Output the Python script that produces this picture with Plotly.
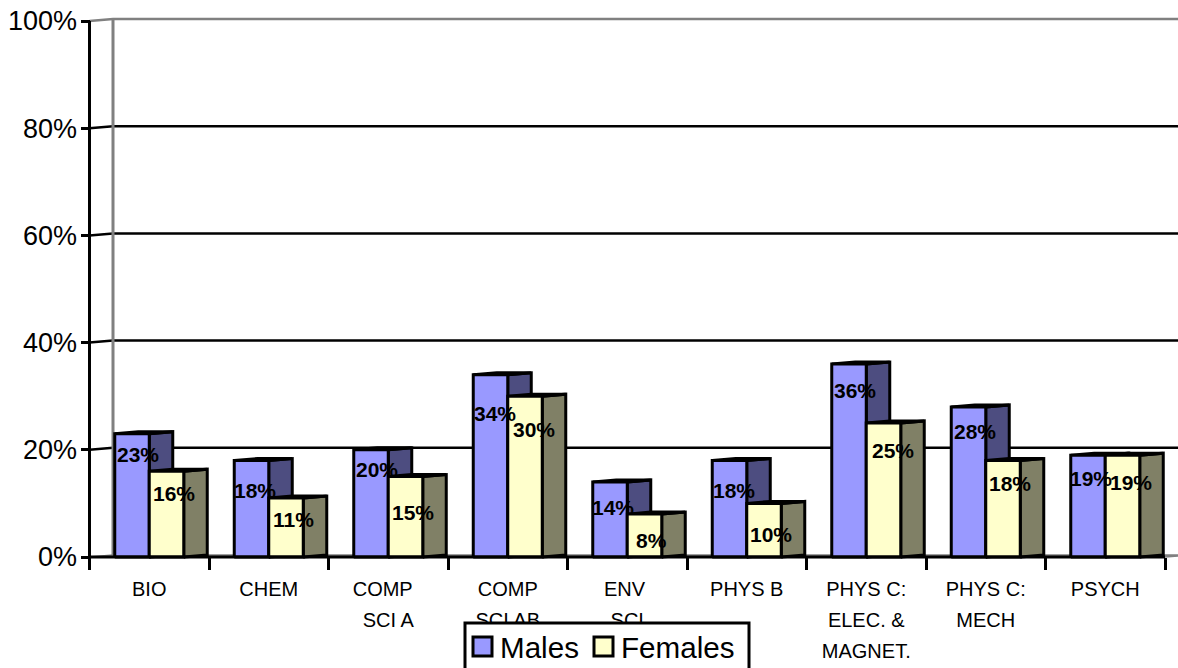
import plotly.graph_objects as go

# ---- data ----
label_rows = [
    ["BIO", "CHEM", "COMP\u00a0\u00a0", "COMP", "ENV\u00a0", "PHYS B", "PHYS C:", "PHYS C:", "PSYCH"],
    ["", "", "SCI A", "SCI AB", "SCI", "", "ELEC. &", "MECH", ""],
    ["", "", "", "", "", "", "MAGNET.", "", ""],
]
males = [23, 18, 20, 34, 14, 18, 36, 28, 19]
females = [16, 11, 15, 30, 8, 10, 25, 18, 19]
y_ticks = [0, 20, 40, 60, 80, 100]

# ---- label nudges, pixels (dx, dy below the bar top) ----
male_nudge_x = [6, 3, 6, 4, 3, 4, 6, 6, 3]
male_nudge_y = [21, 30, 20, 39, 26, 30, 26, 25, 23]
female_nudge_x = [7, 7, 7, 9, 7, 7, 9, 7, 8]
female_nudge_y = [22, 21, 36, 33, 26, 31, 27, 23, 27]

# ---- geometry and style ----
W, H = 1178, 668
L, R, TOP, BOT = 89.5, 1165, 21, 557
cat_px = (R - L) / 9
val_px = (BOT - TOP) / 100
BAR = 34.5 / cat_px
GAP = (1 - 2 * BAR) / 2
DX = 23.5 / cat_px
DY = 2 / val_px
n = len(males)
FONT = "Liberation Sans"
C_M, C_M_SIDE, C_M_TOP = "#9999FF", "#4D4D80", "#7A7ACC"
C_F, C_F_SIDE, C_F_TOP = "#FFFFCC", "#808066", "#CCCCA3"
GREY = "#808080"
X_RANGE = [-L / cat_px, (W - L) / cat_px]
Y_RANGE = [(BOT - H) / val_px, BOT / val_px]


def paper_x(px):
    return px / W


def paper_y(py):
    return (H - py) / H


def polys(rects):
    xs, ys = [], []
    for r in rects:
        xs += [p[0] for p in r] + [r[0][0], None]
        ys += [p[1] for p in r] + [r[0][1], None]
    return xs, ys


def poly_trace(rects, fill, lw=3):
    xs, ys = polys(rects)
    return go.Scatter(x=xs, y=ys, mode="lines", fill="toself", fillcolor=fill,
                      line=dict(color="black", width=lw), hoverinfo="skip", showlegend=False)


def line_trace(x, y, color, lw=2.5):
    return go.Scatter(x=x, y=y, mode="lines", line=dict(color=color, width=lw),
                      hoverinfo="skip", showlegend=False)


fig = go.Figure()

# back wall and floor
fig.add_trace(go.Scatter(x=[0, 9, 9 + DX, DX, 0], y=[0, 0, DY, DY, 0], mode="lines", fill="toself",
                         fillcolor=GREY, line=dict(color=GREY, width=1.5), hoverinfo="skip", showlegend=False))
for t in y_ticks[1:-1]:
    fig.add_trace(line_trace([0, DX, 9 + 2 * DX], [t, t + DY, t + DY], "black"))
fig.add_trace(line_trace([0, DX, 9 + 2 * DX], [100, 100 + DY, 100 + DY], GREY))
fig.add_trace(line_trace([DX, DX], [DY, 100 + DY], GREY, 3))

starts_m = [i + GAP for i in range(n)]
starts_f = [i + GAP + BAR for i in range(n)]


def faces(starts, vals):
    front = [[(s, 0), (s + BAR, 0), (s + BAR, v), (s, v)] for s, v in zip(starts, vals)]
    side = [[(s + BAR, 0), (s + BAR + DX, DY), (s + BAR + DX, v + DY), (s + BAR, v)] for s, v in zip(starts, vals)]
    top = [[(s, v), (s + BAR, v), (s + BAR + DX, v + DY), (s + DX, v + DY)] for s, v in zip(starts, vals)]
    return front, side, top


fm, sm, tm = faces(starts_m, males)
ff, sf, tf = faces(starts_f, females)
fig.add_trace(poly_trace(sm, C_M_SIDE))
fig.add_trace(poly_trace(tm, C_M_TOP))
fig.add_trace(poly_trace(fm, C_M))
fig.add_trace(poly_trace(sf, C_F_SIDE))
fig.add_trace(poly_trace(tf, C_F_TOP))
fig.add_trace(poly_trace(ff, C_F))

# axis lines (axes span the whole page so the depth offset is not clipped)
fig.add_trace(line_trace([0, 9], [0, 0], "black", 3))
fig.add_trace(line_trace([0, 0], [0, 100], "black", 3))

# dummy traces that bring the label-row axes to life
for k in range(len(label_rows)):
    fig.add_trace(go.Scatter(x=[None], y=[None], xaxis=f"x{k + 2}", yaxis="y", showlegend=False, hoverinfo="skip"))

centers = [i + 0.5 for i in range(n)]
layout_axes = {}
row_px = [575, 606, 637]
for k, row in enumerate(label_rows):
    layout_axes[f"xaxis{k + 2}"] = dict(
        overlaying="x", anchor="free", position=paper_y(row_px[k]), range=X_RANGE, side="bottom", automargin=False,
        tickmode="array", tickvals=centers, ticktext=row, ticks="", showline=False, showgrid=False,
        zeroline=False, ticklen=0, tickfont=dict(family=FONT, size=20, color="black"))

annotations = []
for s, v, nx, ny in zip(starts_m, males, male_nudge_x, male_nudge_y):
    annotations.append(dict(x=s + BAR / 2, y=v, text=f"<b>{v}%</b>", showarrow=False, xanchor="center", yanchor="middle",
                            xshift=nx, yshift=-ny, font=dict(family=FONT, size=21, color="black")))
for s, v, nx, ny in zip(starts_f, females, female_nudge_x, female_nudge_y):
    annotations.append(dict(x=s + BAR / 2, y=v, text=f"<b>{v}%</b>", showarrow=False, xanchor="center", yanchor="middle",
                            xshift=nx, yshift=-ny, font=dict(family=FONT, size=21, color="black")))

# legend
shapes = [
    dict(type="rect", xref="paper", yref="paper", x0=paper_x(465), x1=paper_x(749), y0=paper_y(700), y1=paper_y(623),
         fillcolor="white", line=dict(color="black", width=3), layer="above"),
    dict(type="rect", xref="paper", yref="paper", x0=paper_x(473), x1=paper_x(492), y0=paper_y(656), y1=paper_y(637),
         fillcolor=C_M, line=dict(color="black", width=3), layer="above"),
    dict(type="rect", xref="paper", yref="paper", x0=paper_x(594), x1=paper_x(613), y0=paper_y(656), y1=paper_y(637),
         fillcolor=C_F, line=dict(color="black", width=3), layer="above"),
]
for txt, px in (("Males", 499), ("Females", 620)):
    annotations.append(dict(xref="paper", yref="paper", x=paper_x(px), y=paper_y(647), text=txt, showarrow=False,
                            xanchor="left", yanchor="middle", xshift=-1, font=dict(family=FONT, size=29.6, color="black")))

fig.update_layout(
    width=W, height=H, autosize=False, paper_bgcolor="white", plot_bgcolor="white", showlegend=False,
    margin=dict(l=0, r=0, t=0, b=0, pad=0),
    xaxis=dict(range=X_RANGE, showgrid=False, zeroline=False, showline=False, automargin=False,
               anchor="free", position=paper_y(BOT),
               tickmode="array", tickvals=[], ticks="", showticklabels=False,
               minor=dict(tickmode="array", tickvals=list(range(n + 1)), ticks="outside", ticklen=12, tickwidth=2.5, tickcolor="black")),
    yaxis=dict(range=Y_RANGE, tickmode="array", tickvals=y_ticks, automargin=False,
               anchor="free", position=paper_x(L),
               ticktext=[f"{t}%" for t in y_ticks], showgrid=False, zeroline=False, showline=False,
               ticks="outside", ticklen=9, tickwidth=2.5, tickcolor="black", ticklabelstandoff=-2,
               tickfont=dict(family=FONT, size=27, color="black")),
    annotations=annotations, shapes=shapes, **layout_axes)

fig.write_html("out.html", config=dict(displayModeBar=False),
               post_script="document.body.style.margin='0';document.body.style.overflow='hidden';")
